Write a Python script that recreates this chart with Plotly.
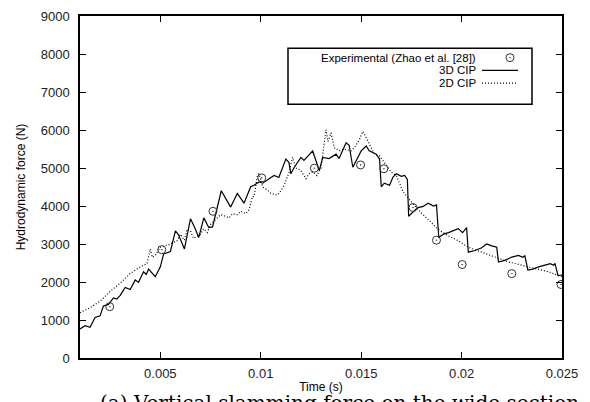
import plotly.graph_objects as go

# ---- data (time in s, force in N) ----
exp_t = [0.00248, 0.00507, 0.00762, 0.01005, 0.01267, 0.01497, 0.01613, 0.01758, 0.01875, 0.02003, 0.0225, 0.02495]
exp_f = [1350, 2850, 3860, 4740, 4995, 5080, 4980, 3960, 3100, 2460, 2220, 1935]

cip3d_t = [0.00100, 0.00125, 0.00150, 0.00175, 0.00200, 0.002165, 0.002415, 0.002665, 0.002835, 0.00300,
           0.00325, 0.00350, 0.00375, 0.003915, 0.004165, 0.0043, 0.004415, 0.00475, 0.00500, 0.005165,
           0.0055, 0.00575, 0.0059, 0.0062, 0.0065, 0.0067, 0.006915, 0.007165, 0.007415, 0.0076,
           0.008035, 0.0085, 0.008835, 0.009165, 0.0095, 0.009665, 0.009915, 0.0101, 0.010415, 0.010665,
           0.0109, 0.01125, 0.0114, 0.0115, 0.01165, 0.012, 0.01215, 0.012415, 0.012585, 0.01275,
           0.012915, 0.013085, 0.0134, 0.01375, 0.0139, 0.01425, 0.0144, 0.014585, 0.01475, 0.015,
           0.01525, 0.0154, 0.01575, 0.015915, 0.016, 0.01615, 0.016415, 0.016585, 0.01675, 0.017,
           0.017165, 0.0173, 0.017365, 0.0176, 0.0178, 0.018085, 0.018335, 0.0186, 0.01875, 0.018865,
           0.0191, 0.01935, 0.019585, 0.019835, 0.02005, 0.02025, 0.020335, 0.020665, 0.021, 0.02125,
           0.0215, 0.02175, 0.021835, 0.02215, 0.0225, 0.022835, 0.02305, 0.02315, 0.0233, 0.02355,
           0.023835, 0.024165, 0.024415, 0.024585, 0.02465, 0.0248, 0.025]
cip3d_f = [766, 850, 808, 1066, 1109, 1367, 1410, 1581, 1550, 1650,
           1857, 1800, 2055, 1990, 2269, 2200, 2339, 2140, 2398, 2741,
           2803, 3344, 3250, 2870, 3662, 3450, 3172, 3687, 3430, 3450,
           4401, 3971, 4332, 4074, 4505, 4546, 4634, 4600, 4719, 4804,
           4750, 5235, 5150, 4848, 5000, 5278, 5200, 5364, 5449, 5191,
           4933, 5278, 5250, 5364, 5250, 5665, 5600, 5020, 5200, 5449,
           5578, 5450, 5364, 5235, 4505, 4600, 4546, 4763, 4848, 4780,
           4804, 4700, 3731, 3850, 3950, 3989, 4074, 4000, 4030, 3172,
           3260, 3300, 3344, 3404, 3300, 3430, 2785, 2829, 2900, 2999,
           2950, 2914, 2527, 2570, 2656, 2700, 2650, 2690, 2313, 2340,
           2398, 2442, 2483, 2440, 2490, 2166, 2184]

cip2d_t = [0.001, 0.0015, 0.002, 0.0025, 0.003, 0.0035, 0.004, 0.004335, 0.0045, 0.0046,
           0.00475, 0.005, 0.0055, 0.005835, 0.006, 0.0062, 0.006335, 0.0065, 0.00665, 0.007,
           0.00715, 0.007335, 0.0075, 0.00775, 0.008, 0.00825, 0.008415, 0.0086, 0.008835, 0.009,
           0.00925, 0.009415, 0.009585, 0.009665, 0.009835, 0.009915, 0.0101, 0.010335, 0.0105, 0.010835,
           0.011, 0.011165, 0.011415, 0.011585, 0.01175, 0.012, 0.01225, 0.0124, 0.0126, 0.0128,
           0.013, 0.01325, 0.01335, 0.0135, 0.013665, 0.0139, 0.01415, 0.0145, 0.014665, 0.014915,
           0.015085, 0.015335, 0.015665, 0.015915, 0.016165, 0.0165, 0.01675, 0.017085, 0.017415, 0.017835,
           0.018335, 0.018835, 0.019335, 0.019835, 0.020335, 0.021, 0.021665, 0.022335, 0.023, 0.023665,
           0.024335, 0.024835, 0.025]
cip2d_f = [1194, 1323, 1496, 1753, 1968, 2225, 2398, 2483, 2870, 2650,
           2700, 2914, 2999, 3086, 3257, 3100, 3386, 3344, 3150, 3257,
           3400, 3300, 3515, 3644, 3773, 3731, 3687, 3800, 3773, 3860,
           3800, 3902, 4247, 4247, 4804, 4848, 4500, 4418, 4332, 4289,
           4400, 4546, 4892, 5278, 5000, 4933, 4719, 4850, 4900, 4800,
           5000, 6008, 5700, 5923, 5536, 5450, 5500, 5449, 5536, 5750,
           5965, 5707, 5364, 5320, 5150, 4892, 4800, 4376, 4160, 3902,
           3644, 3386, 3215, 3086, 2914, 2785, 2656, 2527, 2442, 2355,
           2269, 2166, 2150]

x_ticks = [0.005, 0.01, 0.015, 0.02, 0.025]
x_ticklabels = ["0.005", "0.01", "0.015", "0.02", "0.025"]
y_ticks = [0, 1000, 2000, 3000, 4000, 5000, 6000, 7000, 8000, 9000]

legend_names = ["Experimental (Zhao et al. [28])", "3D CIP", "2D CIP"]
caption = "(a) Vertical slamming force on the wide section"

FONT = "Liberation Sans, Arial, sans-serif"
DOT = "1px,2px"

fig = go.Figure()
fig.add_trace(go.Scatter(x=cip3d_t, y=cip3d_f, mode="lines", name=legend_names[1],
                         line=dict(color="black", width=1.2)))
fig.add_trace(go.Scatter(x=cip2d_t, y=cip2d_f, mode="lines", name=legend_names[2],
                         line=dict(color="black", width=1.2, dash=DOT)))
fig.add_trace(go.Scatter(x=exp_t, y=exp_f, mode="markers", name=legend_names[0],
                         marker=dict(symbol="circle-open-dot", size=8, color="#333",
                                     line=dict(width=1, color="#333"))))

axis_common = dict(showline=True, linecolor="black", linewidth=1.5, mirror="allticks",
                   ticks="inside", ticklen=6, tickcolor="black", tickwidth=1,
                   showgrid=False, zeroline=False,
                   tickfont=dict(family=FONT, size=13, color="#222"))

fig.update_xaxes(range=[0.001, 0.025], tickvals=x_ticks, ticktext=x_ticklabels,
                 title=dict(text="Time (s)", font=dict(family=FONT, size=12, color="black"), standoff=2),
                 ticklabelstandoff=3, **axis_common)
fig.update_yaxes(range=[0, 9000], tickvals=y_ticks,
                 title=dict(text="Hydrodynamic force (N)", font=dict(family=FONT, size=12, color="black"), standoff=13),
                 ticklabelstandoff=6, **axis_common)

# gnuplot-style key (text right-aligned, sample on the right)
def px(x):
    return (x - 80) / 482.0

def py(y):
    return (358 - y) / 349.0

box = dict(x0=288, x1=532, y0=42, y1=99)
fig.add_shape(type="rect", xref="paper", yref="paper",
              x0=px(box["x0"]), x1=px(box["x1"]), y0=py(box["y1"]), y1=py(box["y0"]),
              line=dict(color="black", width=1.5), fillcolor="white", layer="below")
rows_y = [51.5, 64.5, 77.5]
for name, ry in zip(legend_names, rows_y):
    fig.add_annotation(xref="paper", yref="paper", x=px(477), y=py(ry), text=name,
                       showarrow=False, xanchor="right", yanchor="middle", borderpad=0,
                       font=dict(family=FONT, size=11.5, color="black"))
fig.add_shape(type="line", xref="paper", yref="paper", x0=px(482), x1=px(518),
              y0=py(rows_y[1]), y1=py(rows_y[1]), line=dict(color="black", width=1.2))
fig.add_shape(type="line", xref="paper", yref="paper", x0=px(482), x1=px(518),
              y0=py(rows_y[2]), y1=py(rows_y[2]), line=dict(color="black", width=1.2, dash=DOT))
fig.add_trace(go.Scatter(x=[px(510)], y=[py(rows_y[0])], xaxis="x2", yaxis="y2", mode="markers",
                         marker=dict(symbol="circle-open-dot", size=8, color="#333",
                                     line=dict(width=1, color="#333")),
                         hoverinfo="skip", showlegend=False))
fig.update_layout(xaxis2=dict(overlaying="x", range=[0, 1], visible=False),
                  yaxis2=dict(overlaying="y", range=[0, 1], visible=False))

fig.add_annotation(xref="paper", yref="paper", x=px(98), y=py(404), text=caption,
                   showarrow=False, xanchor="left", yanchor="middle",
                   font=dict(family="DejaVu Serif, Liberation Serif, serif", size=20, color="black"))

fig.update_layout(width=590, height=402, margin=dict(l=80, r=28, t=9, b=44),
                  paper_bgcolor="white", plot_bgcolor="white", showlegend=False)

fig.write_html("out.html")
